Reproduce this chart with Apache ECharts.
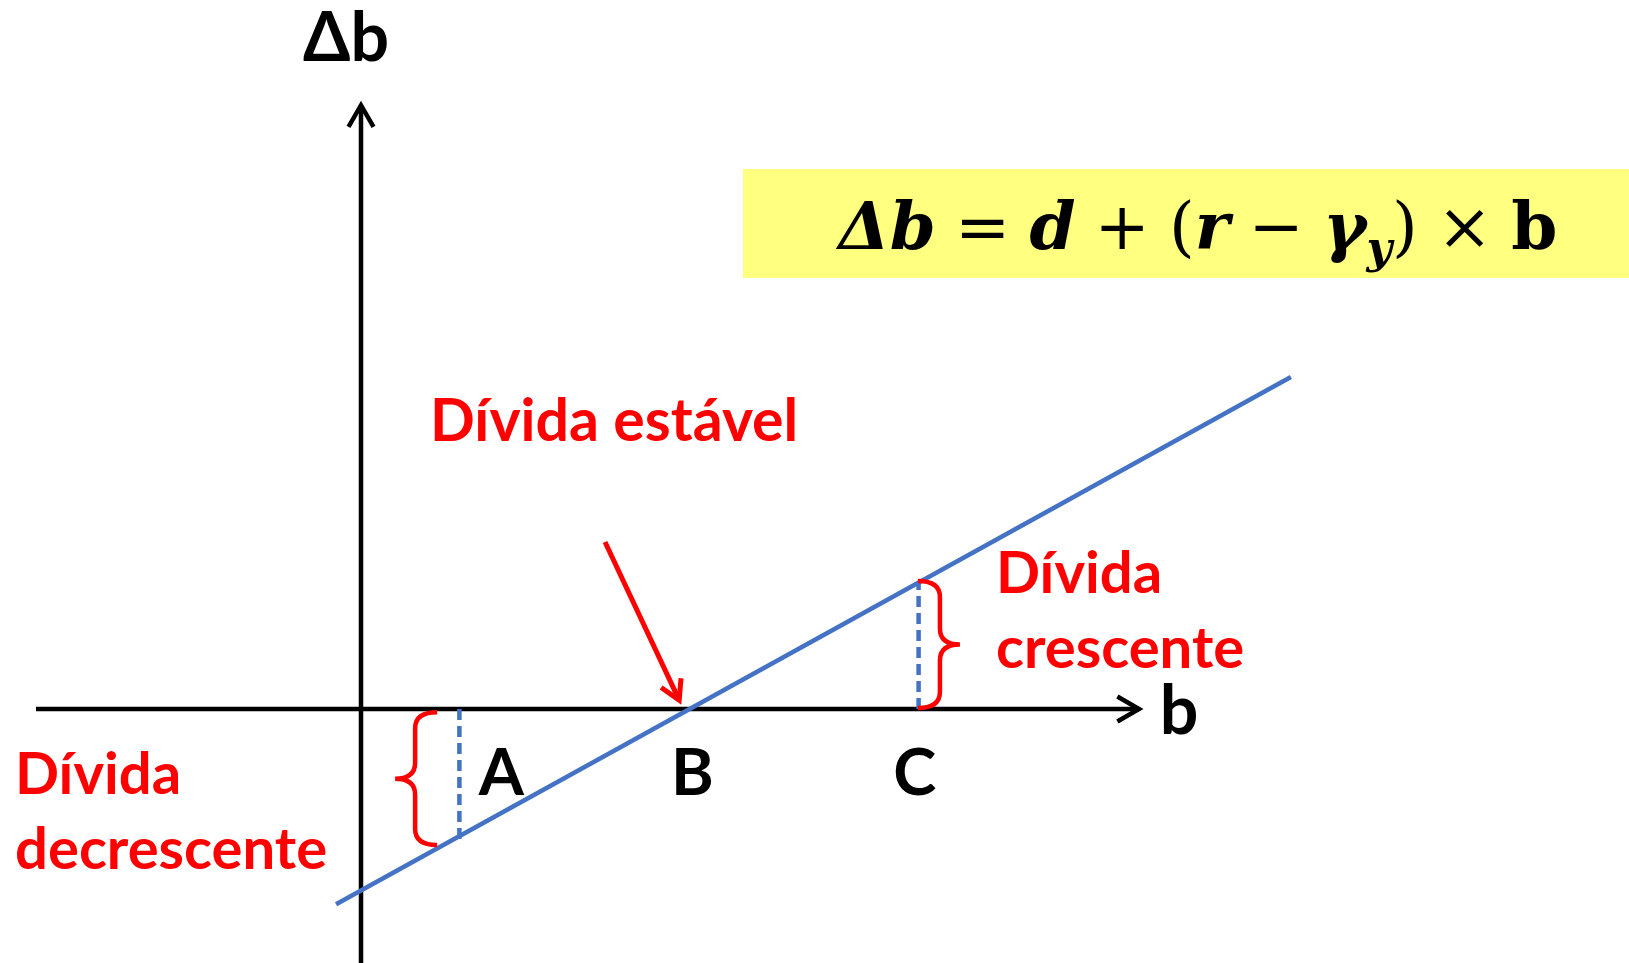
<!DOCTYPE html>
<html>
<head>
<meta charset="utf-8">
<title>Dívida</title>
<script src="https://cdn.jsdelivr.net/npm/echarts@6/dist/echarts.min.js"></script>
<style>
html, body { margin: 0; padding: 0; background: #fff; }
#main { width: 1629px; height: 963px; }
</style>
</head>
<body>
<div id="main"></div>
<script>
// valores em unidades do gráfico (origem no cruzamento dos eixos)
var pointNames = ['A', 'B', 'C'];
var pointX = [3, 10, 17];
var labelX = [4.28, 10.1, 16.88];
var labelY = -1.97;
var debtLine = [[-0.76, -5.95], [28.35, 10.12]];
var guideA = [[3, 0], [3, -4.05]];
var guideC = [[17, 0], [17, 3.85]];
var axisX = [-9.91, 23.72];
var axisY = [-8, 18.41];
// [x da ponta, y topo, y base, sentido]
var braces = [[1.04, -0.1, -4.15, -1], [18.26, 3.9, 0.03, 1]];
var stableArrow = [7.44, 5.09, 9.70, 0.27];

var W = 1629, H = 963, X0 = 361, Y0 = 709, PX = 32.8;
var RED = '#ff0000', BLUE = '#4472c4';

function arrowItem(color, width, len) {
  return function (params, api) {
    var p1 = api.coord([api.value(0), api.value(1)]);
    var p2 = api.coord([api.value(2), api.value(3)]);
    var a = Math.atan2(p2[1] - p1[1], p2[0] - p1[0]);
    var s = Math.PI / 6;
    var head = [
      [p2[0] - len * Math.cos(a - s), p2[1] - len * Math.sin(a - s)],
      [p2[0], p2[1]],
      [p2[0] - len * Math.cos(a + s), p2[1] - len * Math.sin(a + s)]
    ];
    var style = { stroke: color, lineWidth: width, fill: 'none' };
    return {
      type: 'group',
      children: [
        { type: 'line', shape: { x1: p1[0], y1: p1[1], x2: p2[0], y2: p2[1] }, style: style },
        { type: 'polyline', shape: { points: head }, style: style }
      ]
    };
  };
}

function braceItem(params, api) {
  var dir = api.value(3);
  var top = api.coord([api.value(0), api.value(1)]);
  var bot = api.coord([api.value(0), api.value(2)]);
  var tx = top[0], y1 = top[1], y2 = bot[1], ym = (y1 + y2) / 2;
  var sx = tx - dir * 20, ex = tx - dir * 42, r = 16;
  var d = 'M' + ex + ',' + y1 + ' Q' + sx + ',' + y1 + ' ' + sx + ',' + (y1 + r) +
    ' L' + sx + ',' + (ym - r) + ' Q' + sx + ',' + ym + ' ' + tx + ',' + ym +
    ' Q' + sx + ',' + ym + ' ' + sx + ',' + (ym + r) +
    ' L' + sx + ',' + (y2 - r) + ' Q' + sx + ',' + y2 + ' ' + ex + ',' + y2;
  return { type: 'path', shape: { pathData: d }, style: { stroke: RED, lineWidth: 4.5, fill: 'none' } };
}

var txt = function (text, x, y, size, color, align) {
  return {
    type: 'text', x: x, y: y, z: 10,
    style: {
      text: text, fill: color, font: 'bold ' + size + 'px Lato',
      lineHeight: 75, align: align || 'left', textAlign: align || 'left',
      verticalAlign: 'middle', textVerticalAlign: 'middle'
    }
  };
};

var fm = { fontFamily: 'DejaVu Serif', fontWeight: 'bold', fontSize: 66, lineHeight: 84, fill: '#000' };
function rs(extra) { return Object.assign({}, fm, extra); }

var chart = echarts.init(document.getElementById('main'));
chart.setOption({
  animation: false,
  backgroundColor: '#fff',
  grid: { left: 0, right: 0, top: 0, bottom: 0 },
  xAxis: { type: 'value', min: -X0 / PX, max: (W - X0) / PX, show: false },
  yAxis: { type: 'value', min: -(H - Y0) / PX, max: Y0 / PX, show: false },
  graphic: [
    { type: 'rect', shape: { x: 743, y: 169, width: 886, height: 109 }, style: { fill: '#ffff80' } },
    {
      type: 'text', x: 1198, y: 232, z: 10,
      style: {
        text: '{m|Δb} {o|=} {m|d} {o|+} {o|(}{m|r} {o|−} {m|γ}{s|y}{o|)} {o|×} {u|b}',
        font: '60px DejaVu Serif',
        align: 'center', textAlign: 'center',
        verticalAlign: 'middle', textVerticalAlign: 'middle',
        rich: {
          m: rs({ fontStyle: 'italic' }),
          o: rs({ fontWeight: 'normal' }),
          u: rs({}),
          s: rs({ fontStyle: 'italic', fontSize: 44, lineHeight: 34, verticalAlign: 'bottom' })
        }
      }
    },
    txt('Δb', 346, 39, 68, '#000', 'center'),
    txt('b', 1179, 712, 68, '#000', 'center'),
    txt('Dívida estável', 430, 422, 59, RED),
    txt('Dívida\ndecrescente', 15, 813, 58, RED),
    txt('Dívida\ncrescente', 996, 612, 58, RED)
  ],
  series: [
    {
      type: 'custom', name: 'eixos',
      renderItem: arrowItem('#000', 4.5, 25),
      data: [[axisX[0], 0, axisX[1], 0], [0, axisY[0], 0, axisY[1]]],
      z: 2
    },
    {
      type: 'line', name: 'Δb', data: debtLine, symbol: 'none', clip: false,
      lineStyle: { color: BLUE, width: 4.5 }, z: 3
    },
    {
      type: 'line', name: 'A', data: guideA, symbol: 'none',
      lineStyle: { color: BLUE, width: 4.5, type: [11, 6] }, z: 3
    },
    {
      type: 'line', name: 'C', data: guideC, symbol: 'none',
      lineStyle: { color: BLUE, width: 4.5, type: [11, 6] }, z: 3
    },
    { type: 'custom', name: 'chaves', renderItem: braceItem, data: braces, z: 4 },
    {
      type: 'custom', name: 'seta', renderItem: arrowItem(RED, 5, 22),
      data: [stableArrow], z: 5
    },
    {
      type: 'scatter', name: 'pontos', symbolSize: 1,
      itemStyle: { color: 'rgba(0,0,0,0)', opacity: 1 },
      data: pointNames.map(function (n, i) { return { name: n, value: [labelX[i], labelY] }; }),
      label: {
        show: true, position: 'inside', formatter: '{b}',
        color: '#000', fontFamily: 'Lato', fontWeight: 'bold', fontSize: 65
      },
      z: 6
    }
  ]
});
</script>
</body>
</html>
